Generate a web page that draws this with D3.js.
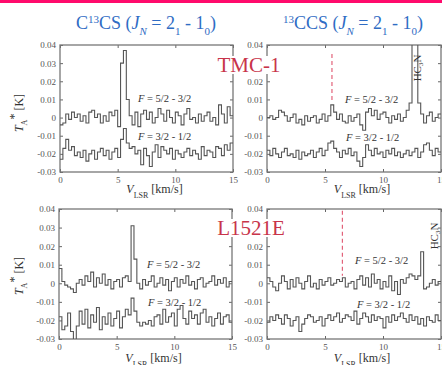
<!DOCTYPE html>
<html>
<head>
<meta charset="utf-8">
<script src="https://cdn.jsdelivr.net/npm/d3@7"></script>
<style>
  body { margin: 0; background: #fff; }
  svg { display: block; font-family: "Liberation Serif", "DejaVu Serif", serif; }
</style>
</head>
<body>
<div id="chart"></div>
<script>
const width = 442;
const height = 365;

// channel width of the spectra [km/s], channel i starts at i * chanWidth
const chanWidth = 0.25;
const xTicks = [0, 5, 10, 15];
const yTicks = [0.04, 0.03, 0.02, 0.01, 0, -0.01, -0.02, -0.03];
const lowerOffset = -0.02; // F = 3/2 - 1/2 spectra are shifted down

// antenna temperatures in mK
const c13csTmcUpper = [-4, -3, 2, -1, 3, 0, 2, -2, 1, -3, 3, 4, 0, 2, -3, 1, -2, 3, 1, 4,
  -5, 30, 37, 10, 1, -4, 3, -5, 2, 4, -1, 3, -3, 0, 5, 2, -2, 4, 0, -3,
  3, 1, -4, 2, 5, -1, 0, -3, 2, -2, 1, 3, -2, 0, -4, 7, 2, -3, 6, 1];
const c13csTmcLower = [-3, 3, 8, 2, 4, -1, 1, -2, 2, -4, 0, 2, -3, 1, 3, -1, 2, -3, 1, 3,
  -2, 8, 14, 6, 3, 4, 0, 2, -6, 3, -1, -7, 1, 5, -2, 4, 2, 0, 3, -3,
  2, 0, -2, 1, 3, -1, 2, 0, -3, 4, -1, 2, 1, -2, 4, 3, -1, 5, 2, 6];
const ccsTmcUpper = [0, 1, -1, 0, 4, 3, 1, -2, 0, 2, -3, -1, -4, 1, -2, 0, 1, -3, -1, 2,
  -2, 1, 7, 3, -1, 2, -2, -3, 1, -2, 0, 2, -4, -7, 3, 5, 1, 4, -1, 2,
  3, 0, -3, 1, -1, 2, -2, 0, 4, 8, 95, 95, 8, 2, -3, 1, 3, -2, 0, 2];
const ccsTmcLower = [2, -1, 3, 0, -2, 1, 3, -1, 0, -2, 2, -3, 1, -1, 0, 2, -2, 1, 3, -1,
  2, 6, 7, 3, 1, -2, 2, 0, 3, -1, 1, -4, -7, -2, 5, 2, -1, 3, 0, 1,
  -2, 2, 0, 3, -1, 1, -2, 0, 2, -1, 1, 3, -2, 1, 5, 6, 2, -1, 3, 1];
const c13csL1521Upper = [8, 1, -1, -2, -3, -5, 0, 2, -1, 4, 1, 6, -2, 3, 0, 5, -1, 2, -3, 1,
  2, -2, 3, 4, 1, 31, 13, 0, -3, 2, -1, 1, 4, -2, 0, 3, -1, 2, -4, 1,
  3, -2, 2, 0, 4, -1, 1, -3, 2, 3, -2, 0, 1, 4, -1, 2, 0, 3, -2, 1];
const c13csL1521Lower = [2, -5, -3, 4, -6, -12, -3, 5, -2, 6, -4, 3, -1, 7, -5, 2, -2, 4, -3, 1,
  5, -4, 2, 6, 3, 12, 5, -1, -3, -1, -2, 0, -3, 2, 3, -2, 6, -1, 2, 4,
  -3, 6, 8, 1, -2, 5, 1, 3, -2, 4, 6, -1, 2, -3, 1, 4, -2, 2, 3, -1];
const ccsL1521Upper = [3, 1, -2, -4, 0, 4, 1, -3, 2, -2, 3, 0, -3, 1, 4, -2, 0, -3, 2, -1,
  1, 3, -1, 0, 2, 1, 3, -2, 0, 1, -3, 2, 4, -1, 3, -2, 5, 0, 2, -3,
  1, -2, 4, -4, 1, -6, 2, 0, 3, 5, 4, 2, 4, 17, -3, -2, 0, 2, -1, 1];
const ccsL1521Lower = [-1, 2, 0, 3, 1, -2, 3, 1, -3, 0, 2, -6, -2, 1, 3, 2, -1, 0, 2, -3,
  1, 3, 0, 2, 4, -1, 1, 3, 2, 0, 5, -2, 1, 4, 2, -1, 3, 0, 2, 1,
  -4, 2, -1, 3, 0, 2, 4, 1, -1, 3, 0, 2, -2, 1, -3, 2, 0, -1, 3, 0];

// systemic velocities marked in the 13CCS panels
const vlsrTmc = 5.6;
const vlsrL1521 = 6.5;

const svg = d3.select("#chart").append("svg")
    .attr("width", width)
    .attr("height", height);

// pink strip at the top edge
svg.append("rect")
    .attr("x", 0).attr("y", 0)
    .attr("width", width).attr("height", 3)
    .attr("fill", "#ff0a6c");

//---------------------------PANELS-----------------------------//
const panels = [
  {id: "tl", x0: 60, x1: 233, y0: 45, y1: 172, upper: c13csTmcUpper, lower: c13csTmcLower,
   fUp: [138, 102], fLo: [138, 140], xname: 193},
  {id: "tr", x0: 267, x1: 441, y0: 45, y1: 172, upper: ccsTmcUpper, lower: ccsTmcLower,
   fUp: [345, 103], fLo: [346, 141], xname: 193, vline: vlsrTmc, vTop: 0.035, vBot: 0.009,
   hc3n: [421, 68]},
  {id: "bl", x0: 59, x1: 232, y0: 209, y1: 339, upper: c13csL1521Upper, lower: c13csL1521Lower,
   fUp: [147, 268], fLo: [148, 306], xname: 362},
  {id: "br", x0: 267, x1: 441, y0: 209, y1: 339, upper: ccsL1521Upper, lower: ccsL1521Lower,
   fUp: [355, 264], fLo: [357, 308], xname: 362, vline: vlsrL1521, vTop: 0.039, vBot: 0.004,
   hc3n: [438, 236]}
];

const fmt = d => d === 0 ? "0" : d.toFixed(2);

panels.forEach(function(p) {
    const x = d3.scaleLinear().domain([0, 15]).range([p.x0, p.x1]);
    const y = d3.scaleLinear().domain([-0.03, 0.04]).range([p.y1, p.y0]);
    const g = svg.append("g");

    g.append("clipPath").attr("id", "clip-" + p.id)
        .append("rect")
        .attr("x", p.x0).attr("y", p.y0)
        .attr("width", p.x1 - p.x0).attr("height", p.y1 - p.y0);

    // axes with inward ticks on all four sides
    g.append("g").attr("transform", `translate(${p.x0},0)`)
        .call(d3.axisLeft(y).tickValues(yTicks).tickFormat(fmt).tickSizeInner(-3).tickSizeOuter(0).tickPadding(4));
    g.append("g").attr("transform", `translate(${p.x1},0)`)
        .call(d3.axisRight(y).tickValues(yTicks).tickFormat("").tickSizeInner(-3).tickSizeOuter(0));
    g.append("g").attr("transform", `translate(0,${p.y1})`)
        .call(d3.axisBottom(x).tickValues(xTicks).tickFormat(d3.format("d")).tickSizeInner(-3).tickSizeOuter(0).tickPadding(5));
    g.append("g").attr("transform", `translate(0,${p.y0})`)
        .call(d3.axisTop(x).tickValues(xTicks).tickFormat("").tickSizeInner(-3).tickSizeOuter(0));
    g.selectAll(".domain").remove();
    g.selectAll(".tick line").attr("stroke", "#666");
    g.selectAll(".tick text")
        .attr("font-family", "Liberation Serif, serif")
        .attr("font-size", 9)
        .attr("fill", "#555");

    g.append("rect")
        .attr("x", p.x0).attr("y", p.y0)
        .attr("width", p.x1 - p.x0).attr("height", p.y1 - p.y0)
        .attr("fill", "none")
        .attr("stroke", "#777")
        .attr("stroke-width", 1.3);

    // spectra as step lines
    const step = d3.line()
        .curve(d3.curveStepAfter)
        .x(d => x(d.v))
        .y(d => y(d.t));
    const toPoints = function(arr, off) {
        const pts = arr.map((t, i) => ({v: i * chanWidth, t: t / 1000 + off}));
        pts.push({v: arr.length * chanWidth, t: arr[arr.length - 1] / 1000 + off});
        return pts;
    };
    [[p.upper, 0], [p.lower, lowerOffset]].forEach(function(s) {
        g.append("path")
            .attr("clip-path", `url(#clip-${p.id})`)
            .attr("d", step(toPoints(s[0], s[1])))
            .attr("fill", "none")
            .attr("stroke", "#555")
            .attr("stroke-width", 1.1);
    });

    if (p.vline !== undefined) {
        g.append("line")
            .attr("x1", x(p.vline)).attr("x2", x(p.vline))
            .attr("y1", y(p.vTop)).attr("y2", y(p.vBot))
            .attr("stroke", "#e2627a")
            .attr("stroke-width", 1.2)
            .attr("stroke-dasharray", "4,3");
    }

    // transition labels
    const fLabel = function(pos, a, b) {
        const t = g.append("text")
            .attr("x", pos[0]).attr("y", pos[1])
            .attr("font-size", 10.5)
            .attr("fill", "#333");
        t.append("tspan").attr("font-style", "italic").text("F");
        t.append("tspan").text(` = ${a} - ${b}`);
    };
    fLabel(p.fUp, "5/2", "3/2");
    fLabel(p.fLo, "3/2", "1/2");

    if (p.hc3n) {
        const t = g.append("text")
            .attr("transform", `translate(${p.hc3n[0]},${p.hc3n[1]}) rotate(-90)`)
            .attr("text-anchor", "middle")
            .attr("font-size", 11)
            .attr("fill", "#333");
        t.append("tspan").text("HC");
        t.append("tspan").attr("font-size", 7).attr("dy", 2).text("3");
        t.append("tspan").attr("dy", -2).text("N");
    }

    // x axis name
    const xl = g.append("text")
        .attr("x", (p.x0 + p.x1) / 2 + 8).attr("y", p.xname)
        .attr("text-anchor", "middle")
        .attr("font-size", 12)
        .attr("fill", "#333");
    xl.append("tspan").attr("font-style", "italic").text("V");
    xl.append("tspan").attr("font-size", 8).attr("dy", 5).text("LSR");
    xl.append("tspan").attr("dy", -5).text(" [km/s]");
});

// y axis names
[113, 276].forEach(function(cy) {
    const t = svg.append("text")
        .attr("transform", `translate(23,${cy}) rotate(-90)`)
        .attr("text-anchor", "middle")
        .attr("font-size", 12)
        .attr("fill", "#333");
    t.append("tspan").attr("font-style", "italic").text("T");
    t.append("tspan").attr("font-size", 8).attr("dy", 4).text("A");
    t.append("tspan").attr("dy", -9).text("*");
    t.append("tspan").attr("dy", 5).text(" [K]");
});

//---------------------------TITLES-----------------------------//
const title = function(cx, parts) {
    const t = svg.append("text")
        .attr("x", cx).attr("y", 29)
        .attr("text-anchor", "middle")
        .attr("font-size", 18)
        .attr("fill", "#2f6cc4");
    parts.forEach(function(q) {
        const s = t.append("tspan").text(q[0]);
        if (q[1] === "sup") s.attr("font-size", 11).attr("baseline-shift", "super");
        if (q[1] === "sub") s.attr("font-size", 11).attr("baseline-shift", "sub");
        if (q[2]) s.attr("font-style", "italic");
    });
};
title(146, [["C"], ["13", "sup"], ["CS ("], ["J", "", true], ["N", "sub", true], [" = 2"], ["1", "sub"], [" - 1"], ["0", "sub"], [")"]]);
title(353, [["13", "sup"], ["CCS ("], ["J", "", true], ["N", "sub", true], [" = 2"], ["1", "sub"], [" - 1"], ["0", "sub"], [")"]]);

// source names, drawn on white so they cover the tick labels behind
[["TMC-1", 249, 72], ["L1521E", 251, 235]].forEach(function(s) {
    const lg = svg.append("g");
    const bg = lg.append("rect").attr("fill", "#fff");
    const t = lg.append("text")
        .attr("x", s[1]).attr("y", s[2])
        .attr("text-anchor", "middle")
        .attr("font-size", 21)
        .attr("fill", "#c8344a")
        .text(s[0]);
    const b = t.node().getBBox();
    bg.attr("x", b.x - 1).attr("y", b.y + 3)
        .attr("width", b.width + 2).attr("height", b.height - 6);
});
</script>
</body>
</html>
